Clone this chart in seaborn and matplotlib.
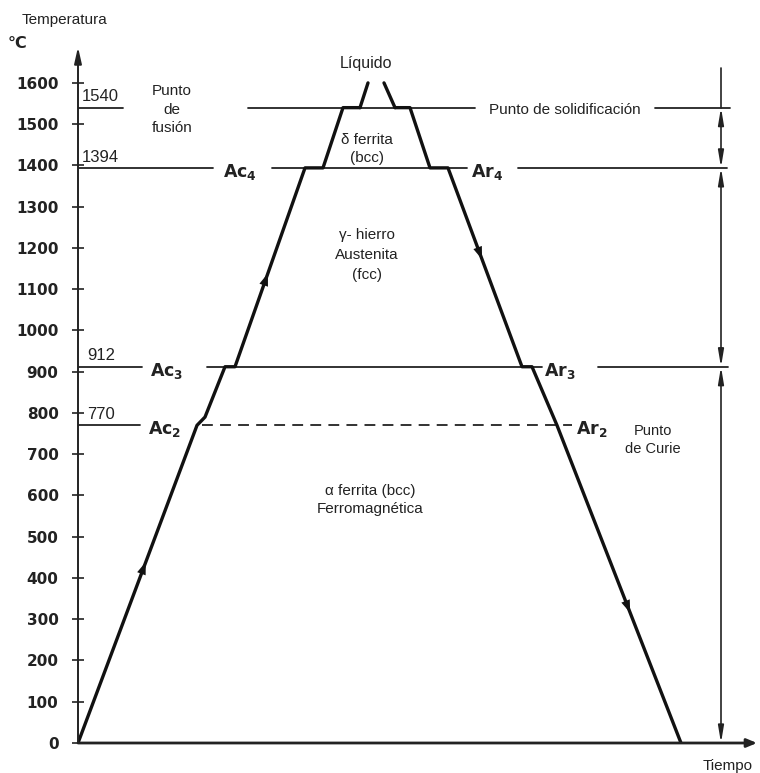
import numpy as np
import matplotlib.pyplot as plt
import seaborn as sns

# temperaturas criticas (degC)
T_LIQ = 1600
T_FUSION = 1540
T_AC4 = 1394
T_AC3 = 912
T_AC2 = 770

# curva de calentamiento / enfriamiento (tiempo arbitrario, temperatura)
calent_t = [0.0, 11.9, 12.7, 14.7, 15.7, 22.7, 24.5, 26.5, 28.2, 29.0]
calent_T = [0, 770, 790, 912, 912, 1394, 1394, 1540, 1540, 1600]
enfr_t = [30.6, 31.7, 33.2, 35.2, 37.0, 44.4, 45.4, 47.9, 60.3]
enfr_T = [1600, 1540, 1540, 1394, 1394, 912, 912, 770, 0]

ticks_y = list(range(0, 1700, 100))

sns.set_style('white')
plt.rcParams['font.family'] = ['Liberation Sans', 'DejaVu Sans']

fig = plt.figure(figsize=(7.6, 7.73), dpi=100)
ax = fig.add_axes([78/760, 30/773, 679/760, 696/773])
ax.set_xlim(0, 67.9)
ax.set_ylim(0, 1687)
for s in ax.spines.values():
    s.set_visible(False)

# ejes con flecha
ax.annotate('', xy=(0, 1687), xytext=(0, 0), annotation_clip=False,
            arrowprops=dict(arrowstyle='-|>,head_length=0.8,head_width=0.18', mutation_scale=12,
                            lw=1.4, color='#222', shrinkA=0, shrinkB=0))
ax.annotate('', xy=(67.9, 0), xytext=(0, 0), annotation_clip=False,
            arrowprops=dict(arrowstyle='-|>,head_length=0.6,head_width=0.25', mutation_scale=10,
                            lw=2.0, color='#222', shrinkA=0, shrinkB=0))

ax.set_yticks(ticks_y)
ax.set_xticks([])
ax.tick_params(axis='y', direction='inout', length=8, width=1.2, color='#222', pad=10, left=True)
for lab in ax.get_yticklabels():
    lab.set_fontfamily('DejaVu Sans')
    lab.set_fontweight('bold')
    lab.set_fontsize(11)
    lab.set_color('#222')

# lineas horizontales
lw_h = 1.3
c = '#222'
for x0, x1 in [(0, 4.5), (17.0, 39.7), (57.7, 65.2)]:
    ax.plot([x0, x1], [T_FUSION] * 2, color=c, lw=lw_h)
for x0, x1 in [(0, 13.5), (19.4, 38.9), (44.0, 64.9)]:
    ax.plot([x0, x1], [T_AC4] * 2, color=c, lw=lw_h)
for x0, x1 in [(0, 6.4), (12.9, 46.4), (52.0, 65.0)]:
    ax.plot([x0, x1], [T_AC3] * 2, color=c, lw=lw_h)
ax.plot([0, 6.2], [T_AC2] * 2, color=c, lw=lw_h)
ax.plot([12.4, 49.4], [T_AC2] * 2, color=c, lw=lw_h, ls=(0, (6, 4)))

# curva principal
sns.lineplot(x=calent_t[:9], y=calent_T[:9], sort=False, estimator=None, color='#111', lw=2.4, ax=ax)
sns.lineplot(x=enfr_t[1:], y=enfr_T[1:], sort=False, estimator=None, color='#111', lw=2.4, ax=ax)
ax.plot(calent_t[8:], calent_T[8:], color='#111', lw=2.4)
ax.plot(enfr_t[:2], enfr_T[:2], color='#111', lw=2.4)

# flechas sobre la curva
def flecha(t0, T0, t1, T1, f):
    xa = t0 + (t1 - t0) * f
    ya = T0 + (T1 - T0) * f
    dx = (t1 - t0) * 0.02
    dy = (T1 - T0) * 0.02
    ax.annotate('', xy=(xa + dx, ya + dy), xytext=(xa - dx, ya - dy),
                arrowprops=dict(arrowstyle='-|>,head_length=0.7,head_width=0.25', mutation_scale=13,
                                lw=0, color='#111', shrinkA=0, shrinkB=0))

flecha(calent_t[0], calent_T[0], calent_t[1], calent_T[1], 0.55)
flecha(calent_t[4], calent_T[4], calent_t[5], calent_T[5], 0.45)
flecha(enfr_t[4], enfr_T[4], enfr_t[5], enfr_T[5], 0.44)
flecha(enfr_t[7], enfr_T[7], enfr_t[8], enfr_T[8], 0.57)

# cotas a la derecha
xc = 64.3
ax.plot([xc, xc], [T_FUSION, 1636], color=c, lw=1.2, clip_on=False)
for a, b in [(0, T_AC3), (T_AC3, T_AC4), (T_AC4, T_FUSION)]:
    ax.annotate('', xy=(xc, a), xytext=(xc, b),
                arrowprops=dict(arrowstyle='<|-|>,head_length=0.9,head_width=0.15', mutation_scale=11,
                                lw=1.2, color=c, shrinkA=0, shrinkB=0))

# textos
tk = dict(color='#222')
ax.text(0.4, T_FUSION + 8, '1540', fontsize=12, va='bottom', ha='left', **tk)
ax.text(0.4, T_AC4 + 8, '1394', fontsize=12, va='bottom', ha='left', **tk)
ax.text(0.9, T_AC3 + 8, '912', fontsize=12, va='bottom', ha='left', **tk)
ax.text(0.9, T_AC2 + 8, '770', fontsize=12, va='bottom', ha='left', **tk)

def critico(x, T, s):
    ax.text(x, T - 10, s, fontsize=12.5, ha='center', va='center', **tk)

critico(16.2, T_AC4, r'$\mathbf{Ac_4}$')
critico(40.9, T_AC4, r'$\mathbf{Ar_4}$')
critico(8.9, T_AC3, r'$\mathbf{Ac_3}$')
critico(48.2, T_AC3, r'$\mathbf{Ar_3}$')
critico(8.7, T_AC2, r'$\mathbf{Ac_2}$')
critico(51.4, T_AC2, r'$\mathbf{Ar_2}$')

ax.text(48.7, T_FUSION - 5, 'Punto de solidificación', fontsize=11, ha='center', va='center', **tk)
ax.text(28.8, 1648, 'Líquido', fontsize=11.5, ha='center', va='center', **tk)
ax.text(9.4, 1535, 'Punto\nde\nfusión', fontsize=11, ha='center', va='center', linespacing=1.4, **tk)
ax.text(28.9, 1440, 'δ ferrita\n(bcc)', fontsize=11, ha='center', va='center', linespacing=1.4, **tk)
ax.text(28.9, 1183, 'γ- hierro\nAustenita\n(fcc)', fontsize=11, ha='center', va='center', linespacing=1.55, **tk)
ax.text(29.2, 589, 'α ferrita (bcc)\nFerromagnética', fontsize=11, ha='center', va='center', linespacing=1.4, **tk)
ax.text(57.5, 735, 'Punto\nde Curie', fontsize=10.5, ha='center', va='center', linespacing=1.4, **tk)

fig.text(65/760, 1 - 20/773, 'Temperatura', fontsize=11, ha='center', va='center', **tk)
fig.text(8/760, 1 - 43/773, '°C', fontsize=11.5, fontweight='bold', fontfamily='DejaVu Sans',
         ha='left', va='center', **tk)
fig.text(728/760, 1 - 766/773, 'Tiempo', fontsize=11, ha='center', va='center', **tk)

fig.savefig('out.png', dpi=100)
